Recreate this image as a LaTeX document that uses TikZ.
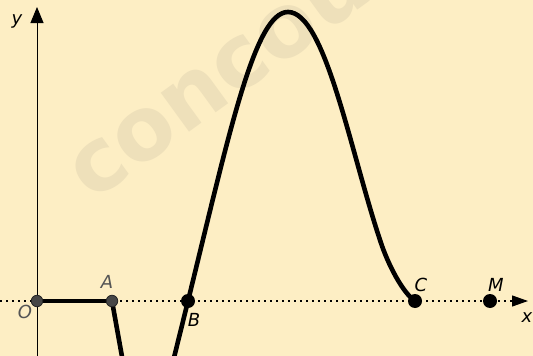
\documentclass[tikz,border=0pt]{standalone}
\usepackage{fontspec}
\setmainfont{DejaVu Sans}
\usetikzlibrary{arrows.meta}
\definecolor{bg}{RGB}{253,238,196}
\definecolor{wm}{RGB}{238,224,186}
\definecolor{ptgray}{RGB}{70,70,70}
\definecolor{lblgray}{RGB}{85,85,85}
\begin{document}
\begin{tikzpicture}[x=1pt,y=-1pt,
  lbl/.style={font=\fontsize{18}{21}\selectfont\itshape, inner sep=0pt},
  gpt/.style={circle, fill=ptgray, draw=black!85, line width=0.8pt, minimum size=11.5pt, inner sep=0pt},
  bpt/.style={circle, fill=black, minimum size=14pt, inner sep=0pt},
  curve/.style={line width=4.6pt, line cap=round, line join=round},
  axisline/.style={line width=1pt}]
\fill[bg] (0,0) rectangle (533,356);
\useasboundingbox (0,0) rectangle (533,356);
\begin{scope}
\clip (0,0) rectangle (533,356);
\node[anchor=base west, rotate=36, text=wm, inner sep=0pt,
      font=\fontsize{88}{88}\selectfont\bfseries] (wmark) at (92,203) {concours};
\draw[axisline, -{Triangle[length=16pt,width=13pt]}] (37,360) -- (37,7);
\draw[line width=1.2pt, dash pattern=on 1.5pt off 4.5pt, -{Triangle[length=16pt,width=11pt]}] (0,301) -- (528,301);
\coordinate (O) at (37,301);
\coordinate (A) at (112,301);
\coordinate (B) at (188,301);
\coordinate (C) at (415,301);
\coordinate (M) at (490,301);
\coordinate (P) at (288,12);
\draw[curve] (O) -- (A);
\draw[curve] (A) -- (128,390) .. controls (135,430) and (160,430) .. (166,390) -- (B)
  .. controls (230,130) and (255,12) .. (P)
  .. controls (325,12) and (350,150) .. (380,240)
  .. controls (388,265) and (403,293) .. (C);
\end{scope}
\node[gpt] (Op) at (O) {};
\node[gpt] (Ap) at (A) {};
\node[bpt] (Bp) at (B) {};
\node[bpt] (Cp) at (C) {};
\node[bpt] (Mp) at (M) {};
\node[lbl, text=lblgray] (Ol) at (25,312) {O};
\node[lbl, text=lblgray] (Al) at (107,282) {A};
\node[lbl] (Bl) at (194,320) {B};
\node[lbl] (Cl) at (421,285) {C};
\node[lbl] (Ml) at (496,285) {M};
\node[lbl] (xl) at (527,318) {x};
\node[lbl] (yl) at (17,21) {y};
\end{tikzpicture}
\end{document}
